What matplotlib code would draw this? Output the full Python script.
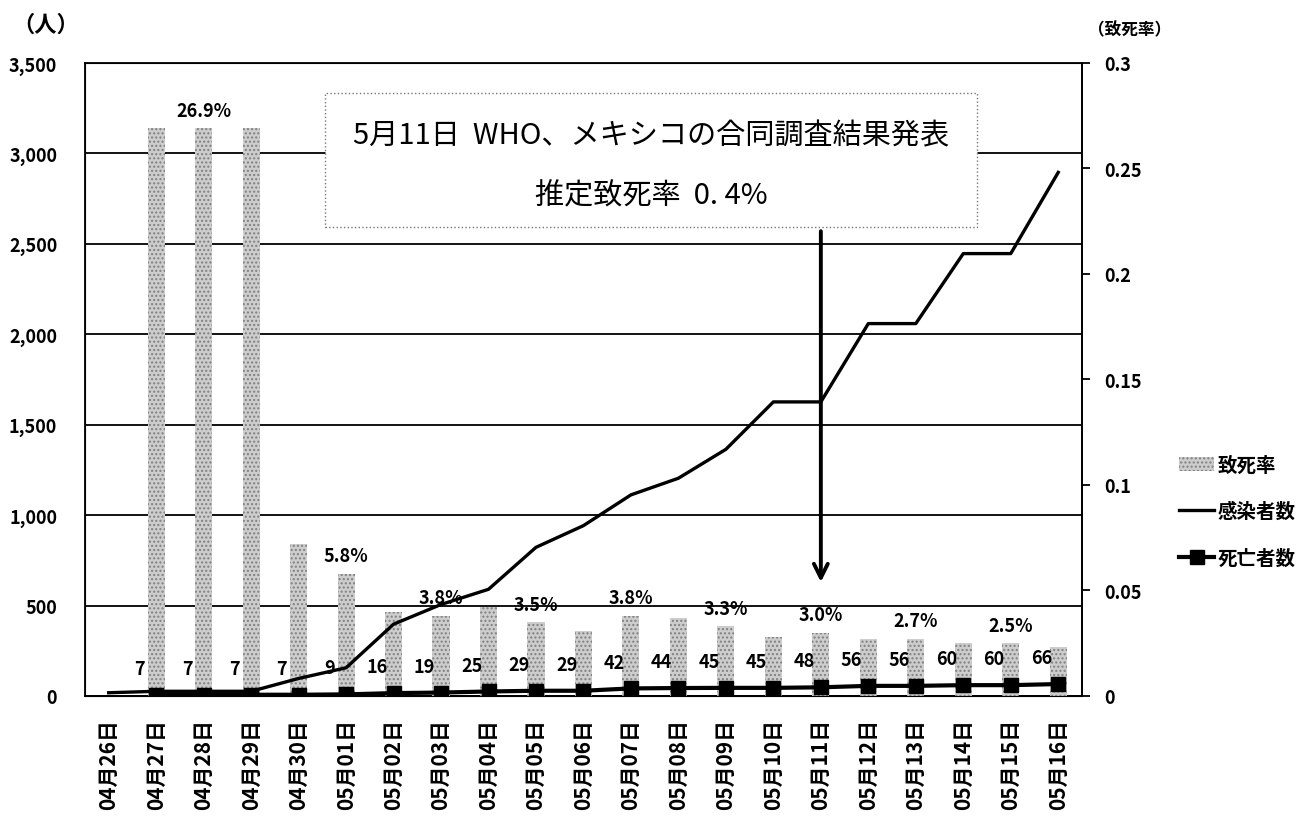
import matplotlib
matplotlib.use("Agg")
import matplotlib.pyplot as plt
from matplotlib.patches import Patch, Rectangle
from matplotlib.lines import Line2D
import numpy as np

plt.rcParams['font.family'] = ['Noto Sans CJK JP', 'DejaVu Sans']
plt.rcParams['font.weight'] = 'bold'

# データ
fechas = ['04月26日', '04月27日', '04月28日', '04月29日', '04月30日', '05月01日',
          '05月02日', '05月03日', '05月04日', '05月05日', '05月06日', '05月07日',
          '05月08日', '05月09日', '05月10日', '05月11日', '05月12日', '05月13日',
          '05月14日', '05月15日', '05月16日']
infectados = [18, 26, 26, 26, 97, 156, 397, 506, 590, 822, 942, 1112,
              1204, 1364, 1626, 1626, 2059, 2059, 2446, 2446, 2895]
# 04月27日から
muertes = [7, 7, 7, 7, 9, 16, 19, 25, 29, 29, 42, 44, 45, 45, 48, 56, 56, 60, 60, 66]
tasa = [0.269, 0.269, 0.269, 0.072, 0.058, 0.040, 0.038, 0.042, 0.035, 0.031,
        0.038, 0.037, 0.033, 0.028, 0.030, 0.027, 0.027, 0.025, 0.025, 0.023]
etiquetas_tasa = ['', '26.9%', '', '', '5.8%', '', '3.8%', '', '3.5%', '',
                  '3.8%', '', '3.3%', '', '3.0%', '', '2.7%', '', '2.5%', '']

x = np.arange(len(fechas))
xm = x[1:]

fig = plt.figure(figsize=(13.11, 8.2), dpi=100)
rect = [0.0648, 0.15, 0.7605, 0.772]

# eje de fondo: cuadricula y escala izquierda
ax = fig.add_axes(rect)
ax.set_xlim(-0.5, len(fechas) - 0.5)
ax.set_ylim(0, 3500)
ax.set_yticks(np.arange(0, 3501, 500))
ax.set_yticklabels([f'{v:,}' for v in range(0, 3501, 500)], fontsize=13)
ax.yaxis.grid(True, color='black', lw=1.3)
ax.set_axisbelow(True)
ax.tick_params(axis='y', length=0, pad=20)
ax.set_xticks(x)
ax.set_xticklabels(fechas, rotation=90, fontsize=15)
ax.tick_params(axis='x', length=0, pad=16)
for s in ax.spines.values():
    s.set_color('black')
    s.set_linewidth(1.3)

# barras: 致死率 (escala derecha)
ax2 = ax.twinx()
ax2.set_ylim(0, 0.3)
ax2.set_yticks([0, 0.05, 0.1, 0.15, 0.2, 0.25, 0.3])
ax2.set_yticklabels(['0', '0.05', '0.1', '0.15', '0.2', '0.25', '0.3'], fontsize=13)
ax2.tick_params(axis='y', direction='out', length=6, width=1.3, pad=10)
ax2.spines['right'].set_linewidth(1.3)
barras = ax2.bar(xm, tasa, width=0.36, color='#cdcdcd', edgecolor='#808080',
                 hatch='....', linewidth=0, zorder=2)
for xi, v, et in zip(xm, tasa, etiquetas_tasa):
    if et:
        ax2.annotate(et, (xi, v), xytext=(0, 13), textcoords='offset points',
                     ha='center', va='center', fontsize=13)

# lineas: 感染者数 y 死亡者数
ax3 = fig.add_axes(rect, sharex=ax)
ax3.set_ylim(0, 3500)
ax3.axis('off')
ax3.plot(x, infectados, color='black', lw=2.4, zorder=3)
ax3.plot(xm, muertes, color='black', lw=3, marker='s', ms=10, zorder=4)
for xi, v in zip(xm, muertes):
    ax3.annotate(str(v), (xi, v), xytext=(-12, 19), textcoords='offset points',
                 ha='center', va='center', fontsize=13)

# cuadro de texto y flecha
ax3.add_patch(Rectangle((0.2407, 0.741), 0.654, 0.2117, transform=ax3.transAxes,
                        facecolor='white', edgecolor='#777777', lw=1, ls=':',
                        zorder=5))
ax3.text(0.5677, 0.885, '5月11日  WHO、メキシコの合同調査結果発表',
         transform=ax3.transAxes, ha='center', va='center', fontsize=21,
         fontweight='normal', zorder=6)
ax3.text(0.5677, 0.790, '推定致死率  0. 4%', transform=ax3.transAxes,
         ha='center', va='center', fontsize=21, fontweight='normal', zorder=6)
ax3.annotate('', xy=(15, 630), xytext=(15, 2570),
             arrowprops=dict(arrowstyle='->,head_length=1.0,head_width=0.5',
                             color='black', lw=2.8, shrinkA=0, shrinkB=0),
             zorder=6)

fig.text(0.009, 0.9695, '（人）', fontsize=16, ha='left', va='center')
fig.text(0.83, 0.963, '（致死率）', fontsize=12, ha='left', va='center')

# leyenda
handles = [Patch(facecolor='#cdcdcd', edgecolor='#808080', hatch='....', lw=0),
           Line2D([], [], color='black', lw=2.4),
           Line2D([], [], color='black', lw=3, marker='s', ms=10)]
fig.legend(handles, ['致死率', '感染者数', '死亡者数'], loc='center left',
           bbox_to_anchor=(0.886, 0.375), frameon=False, fontsize=14,
           labelspacing=1.4, handlelength=1.8, handletextpad=0.2)

fig.savefig('out.png', dpi=100)
